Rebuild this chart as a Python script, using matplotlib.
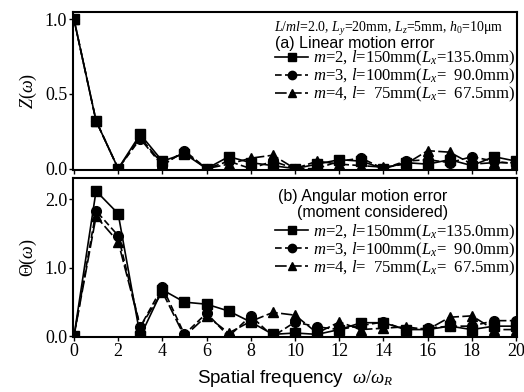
import numpy as np
import matplotlib
matplotlib.use("Agg")
import matplotlib.pyplot as plt
from matplotlib.lines import Line2D

plt.rcParams['font.family'] = ['Liberation Serif', 'DejaVu Serif']
plt.rcParams['mathtext.fontset'] = 'custom'
plt.rcParams['mathtext.rm'] = 'Liberation Serif'
plt.rcParams['mathtext.it'] = 'Liberation Serif:italic'

freq = np.arange(21)

# (a) linear motion error Z(w)
z_m2 = [1.0, 0.32, 0.0, 0.23, 0.05, 0.10, 0.0, 0.08, 0.04, 0.02, 0.0,
        0.03, 0.06, 0.05, 0.0, 0.04, 0.03, 0.06, 0.02, 0.08, 0.05]
z_m3 = [1.0, 0.32, 0.0, 0.20, 0.02, 0.12, 0.0, 0.05, 0.0, 0.05, 0.0,
        0.0, 0.05, 0.07, 0.0, 0.05, 0.06, 0.04, 0.08, 0.05, 0.03]
z_m4 = [1.0, 0.32, 0.0, 0.21, 0.03, 0.11, 0.0, 0.03, 0.07, 0.09, 0.0,
        0.05, 0.03, 0.02, 0.01, 0.03, 0.12, 0.11, 0.03, 0.04, 0.04]

# (b) angular motion error Theta(w)
t_m2 = [0.0, 2.12, 1.79, 0.0, 0.68, 0.50, 0.47, 0.37, 0.21, 0.03, 0.05,
        0.03, 0.10, 0.20, 0.20, 0.10, 0.10, 0.15, 0.10, 0.15, 0.15]
t_m3 = [0.0, 1.83, 1.47, 0.14, 0.72, 0.03, 0.34, 0.0, 0.30, 0.0, 0.21,
        0.14, 0.10, 0.16, 0.21, 0.10, 0.12, 0.15, 0.15, 0.23, 0.23]
t_m4 = [0.0, 1.75, 1.38, 0.14, 0.65, 0.0, 0.30, 0.05, 0.22, 0.35, 0.31,
        0.05, 0.21, 0.10, 0.12, 0.14, 0.10, 0.28, 0.30, 0.10, 0.10]

labels = [r"$m$=2, $l$=150mm($L_x$=135.0mm)",
          r"$m$=3, $l$=100mm($L_x$=  90.0mm)",
          r"$m$=4, $l$=  75mm($L_x$=  67.5mm)"]
styles = [dict(marker='s', ls='-'),
          dict(marker='o', ls=(0, (4, 2))),
          dict(marker='^', ls=(0, (7, 2)))]

fig = plt.figure(figsize=(5.24, 3.92), dpi=100)
ax1 = fig.add_axes([0.139, 0.566, 0.848, 0.403])
ax2 = fig.add_axes([0.139, 0.140, 0.848, 0.406])

for ax, series in [(ax1, [z_m2, z_m3, z_m4]), (ax2, [t_m2, t_m3, t_m4])]:
    for s, st in zip(series, styles):
        ax.plot(freq, s, color='black', lw=1.2, ms=7, **st)
    ax.set_xlim(-0.05, 20.05)
    ax.set_xticks(range(0, 21, 2))
    ax.tick_params(direction='out', length=3, width=1, labelsize=13, pad=1)
    for sp in ax.spines.values():
        sp.set_linewidth(1.5)
    handles = [Line2D([], [], color='black', lw=1.2, ms=6, **st) for st in styles]
    ax.legend(handles, labels, loc='upper left', frameon=False,
              bbox_to_anchor=(0.455, 0.765 if ax is ax1 else 0.72),
              fontsize=12, handlelength=2.0, handletextpad=0.25,
              labelspacing=-0.08, borderpad=0, borderaxespad=0)

ax1.set_ylim(-0.01, 1.047)
ax1.set_yticks([0.0, 0.5, 1.0])
ax1.set_yticklabels(['0.0', '0.5', '1.0'])
ax1.tick_params(labelbottom=False)
ax1.set_ylabel(r"$Z(\omega)$", fontsize=13, labelpad=4)
ax1.text(0.968, 0.895, r"$L/ml$=2.0, $L_y$=20mm, $L_z$=5mm, $h_0$=10$\mathrm{\mu}$m",
         transform=ax1.transAxes, ha='right', va='center', fontsize=10)
ax1.text(0.455, 0.80, "(a) Linear motion error", transform=ax1.transAxes,
         family='Liberation Sans', fontsize=11.5, va='center')

ax2.set_ylim(-0.01, 2.31)
ax2.set_yticks([0.0, 1.0, 2.0])
ax2.set_yticklabels(['0.0', '1.0', '2.0'])
ax2.set_ylabel(r"$\Theta(\omega)$", fontsize=13, labelpad=4)
ax2.text(0.462, 0.885, "(b) Angular motion error", transform=ax2.transAxes,
         family='Liberation Sans', fontsize=11.5, va='center')
ax2.text(0.505, 0.78, "(moment considered)", transform=ax2.transAxes,
         family='Liberation Sans', fontsize=11.5, va='center')
ax2.set_xlabel(r"Spatial frequency  $\omega/\omega_R$", family='Liberation Sans',
               fontsize=13.5, labelpad=6)

fig.savefig("out.png", dpi=100)
